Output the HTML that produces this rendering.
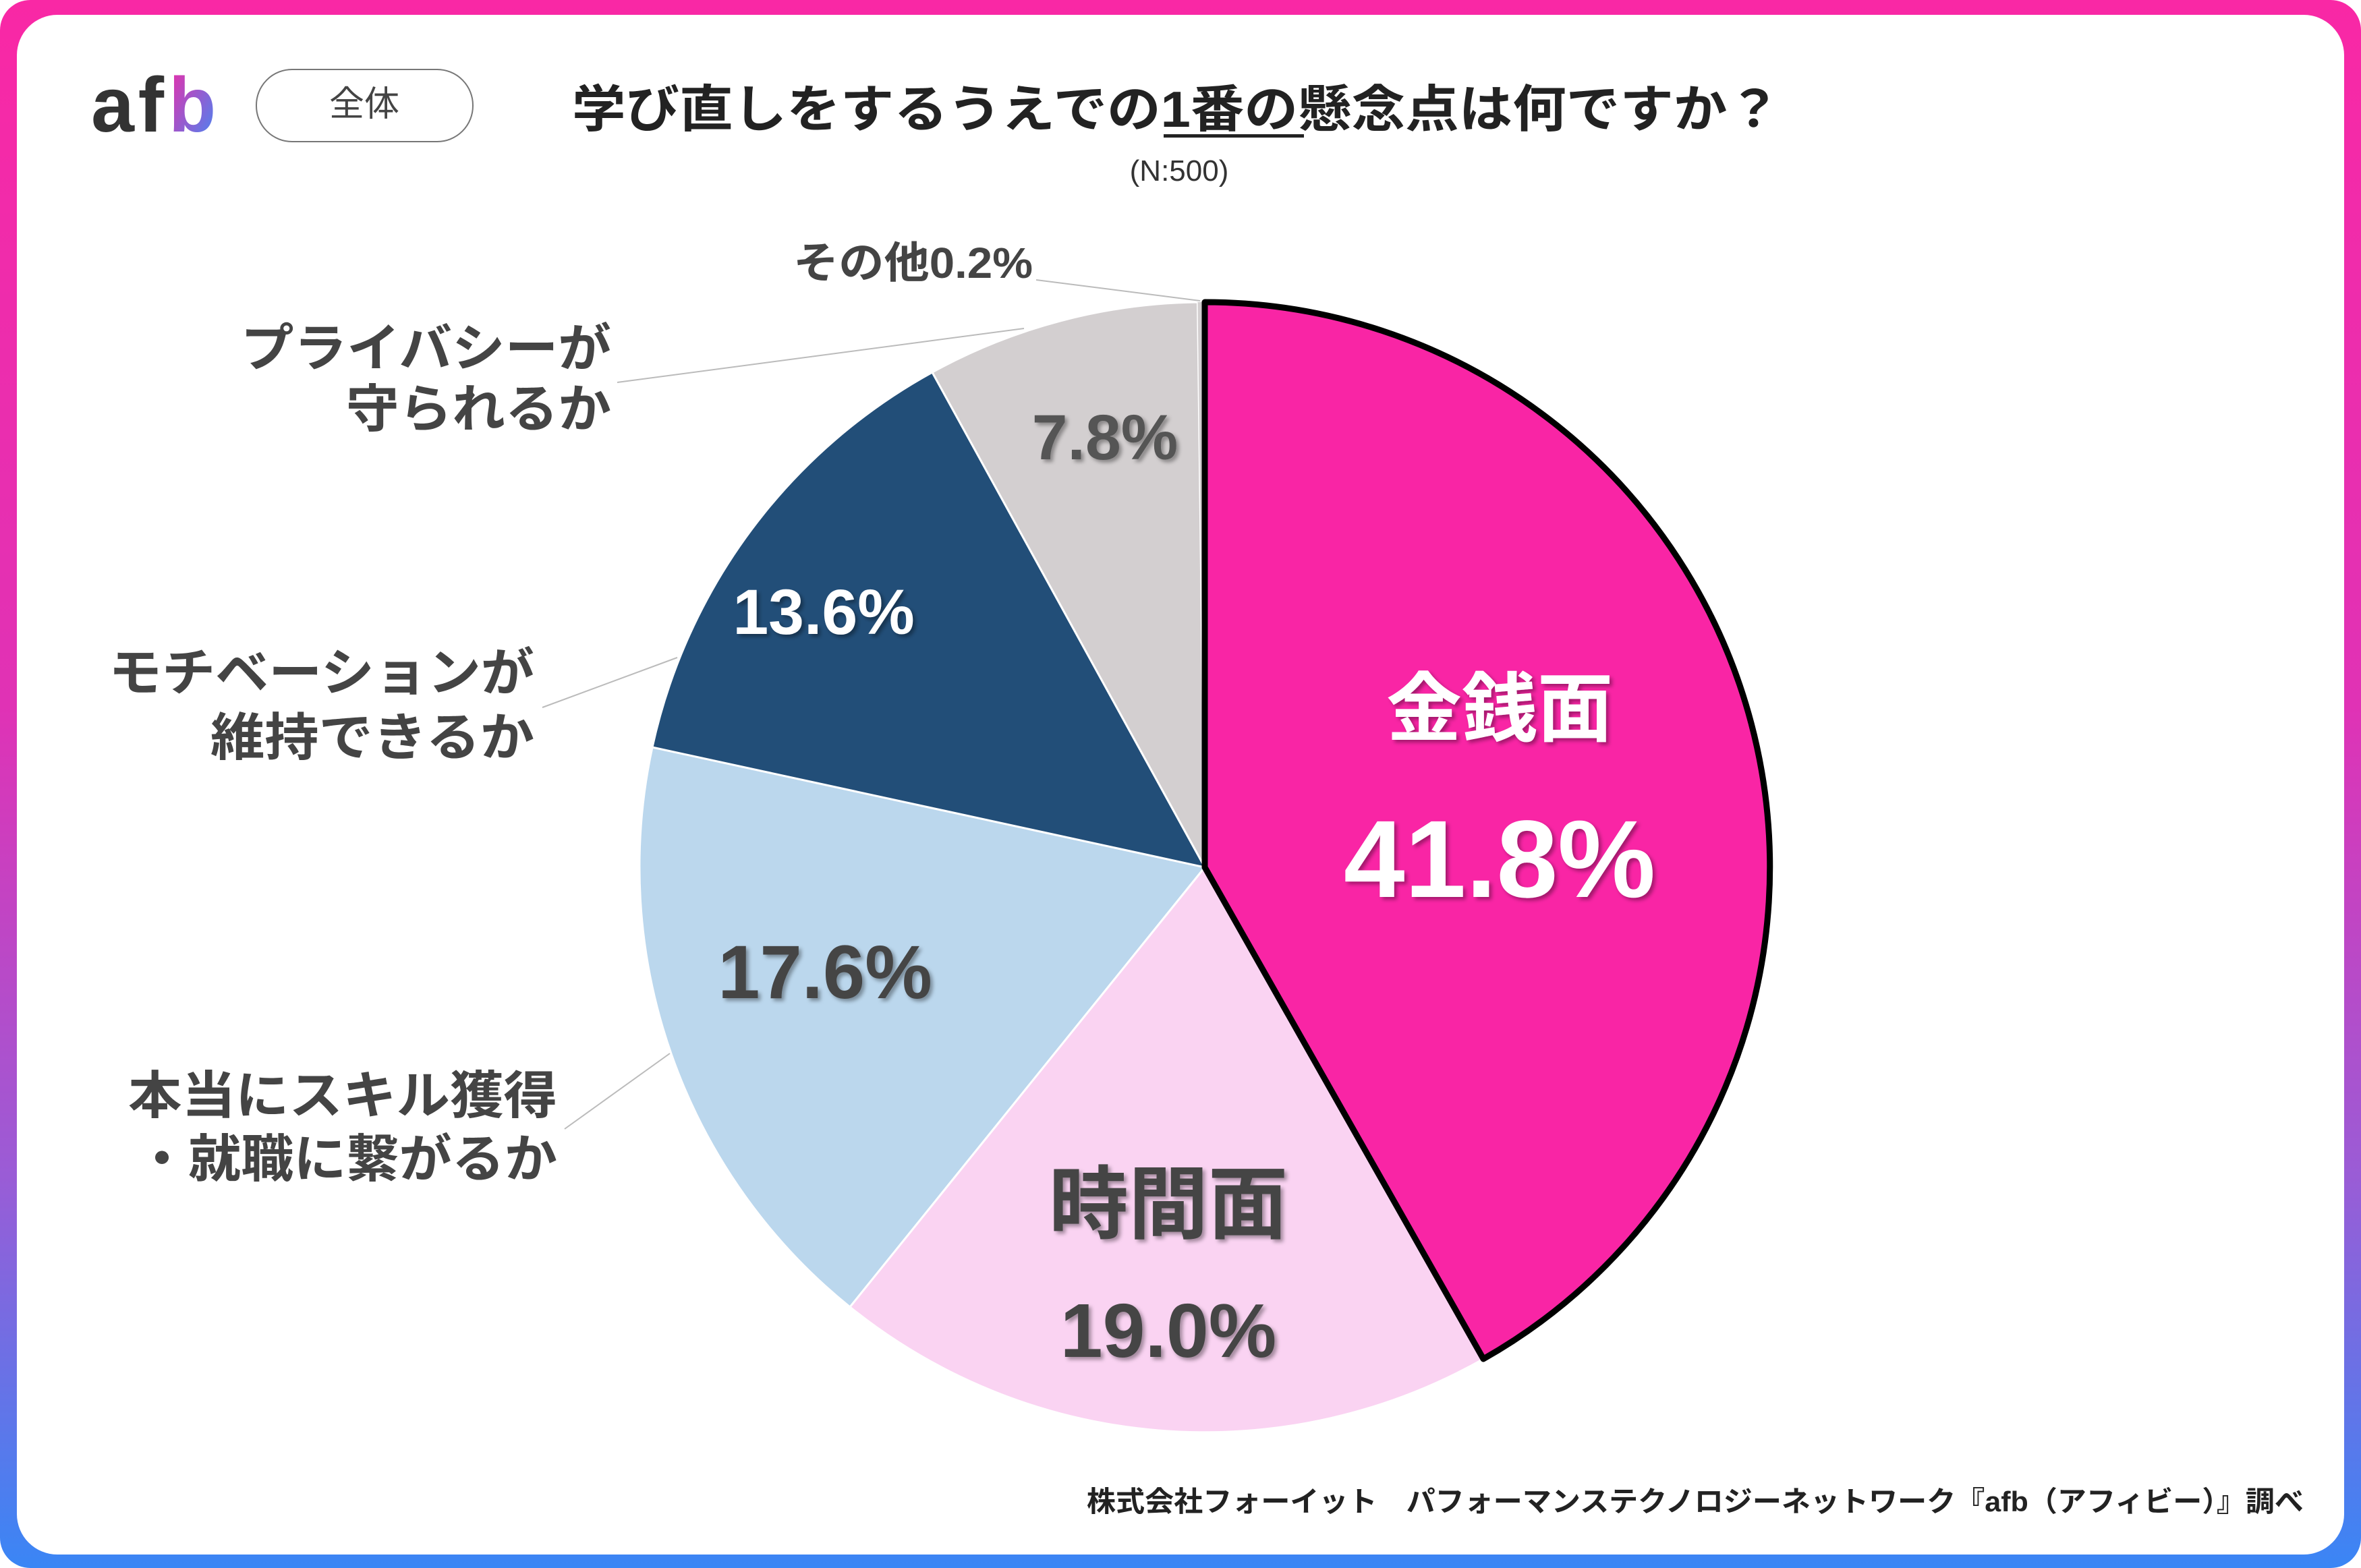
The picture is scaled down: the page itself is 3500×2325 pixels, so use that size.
<!DOCTYPE html>
<html><head><meta charset="utf-8"><style>
html,body{margin:0;padding:0;width:3500px;height:2325px;overflow:hidden;background:#fff}
svg{display:block}
text{font-family:"Liberation Sans","Noto Sans CJK JP",sans-serif}
</style></head><body>
<svg width="3500" height="2325" viewBox="0 0 3500 2325" xmlns="http://www.w3.org/2000/svg">
<defs>
<linearGradient id="fr" x1="0" y1="0" x2="0" y2="1">
<stop offset="0" stop-color="#F928A5"/><stop offset="0.45" stop-color="#E032B5"/><stop offset="0.75" stop-color="#9A5CD6"/><stop offset="1" stop-color="#3A86F5"/>
</linearGradient>
<linearGradient id="lb" x1="0" y1="0" x2="1" y2="1">
<stop offset="0" stop-color="#F12AA6"/><stop offset="1" stop-color="#3D8BF7"/>
</linearGradient>
<filter id="sh" x="-10%" y="-10%" width="130%" height="130%"><feDropShadow dx="4" dy="4" stdDeviation="3" flood-color="#000" flood-opacity="0.35"/></filter>
</defs>
<rect x="0" y="0" width="3500" height="2325" rx="45" fill="url(#fr)"/>
<rect x="25" y="22" width="3450" height="2283" rx="60" fill="#fff"/>

<!-- logo -->
<text x="135" y="195" font-size="115" font-weight="bold" fill="#333" font-family="DejaVu Sans,sans-serif" textLength="108" lengthAdjust="spacing">af</text>
<text x="250" y="195" font-size="115" font-weight="bold" fill="url(#lb)" font-family="DejaVu Sans,sans-serif">b</text>
<rect x="380" y="103" width="321" height="107" rx="53" fill="#fff" stroke="#777" stroke-width="2"/>
<text x="540" y="172" font-size="52" fill="#444" text-anchor="middle">全体</text>

<!-- title -->
<text x="848" y="188" font-size="75" font-weight="bold" fill="#222" textLength="1792" lengthAdjust="spacingAndGlyphs">学び直しをするうえでの1番の懸念点は何ですか？</text>
<rect x="1725" y="199" width="208" height="5" fill="#222"/>
<text x="1748" y="268" font-size="44" fill="#333" text-anchor="middle">(N:500)</text>

<!-- pie -->
<path d="M1786 1286 L1260 1938 A838 838 0 0 1 967 1108 Z" fill="#BBD7ED" stroke="#fff" stroke-width="3"/>
<path d="M1786 1286 L967 1108 A838 838 0 0 1 1382 552 Z" fill="#224E78" stroke="#fff" stroke-width="3"/>
<path d="M1786 1286 L1382 552 A838 838 0 0 1 1775.5 448 Z" fill="#D3CFD0" stroke="#fff" stroke-width="3"/>
<path d="M1786 1286 L1775.5 448 A838 838 0 0 1 1786 448 Z" fill="#D3CFD0"/>
<path d="M1786 1286 L2199 2015 A838 838 0 0 1 1260 1938 Z" fill="#FAD3F2" stroke="#fff" stroke-width="3"/>
<path d="M1786 1286 L1786 448 A838 838 0 0 1 2199 2015 Z" fill="#F925A5" stroke="#000" stroke-width="9" stroke-linejoin="round"/>

<!-- leader lines -->
<g stroke="#bbb" stroke-width="2" fill="none">
<line x1="1536" y1="415" x2="1779" y2="446"/>
<line x1="915" y1="567" x2="1518" y2="487"/>
<line x1="804" y1="1049" x2="1004" y2="975"/>
<line x1="837" y1="1674" x2="993" y2="1562"/>
</g>

<!-- outside labels -->
<g font-weight="bold" fill="#444" lengthAdjust="spacingAndGlyphs">
<text x="1176" y="412" font-size="64" textLength="355" lengthAdjust="spacingAndGlyphs">その他0.2%</text>
<text x="357" y="543" font-size="76" textLength="549" lengthAdjust="spacingAndGlyphs">プライバシーが</text>
<text x="513" y="633" font-size="76" textLength="393" lengthAdjust="spacingAndGlyphs">守られるか</text>
<text x="161" y="1024" font-size="76" textLength="631" lengthAdjust="spacingAndGlyphs">モチベーションが</text>
<text x="312" y="1120" font-size="76" textLength="480" lengthAdjust="spacingAndGlyphs">維持できるか</text>
<text x="190" y="1651" font-size="76" textLength="636" lengthAdjust="spacingAndGlyphs">本当にスキル獲得</text>
<text x="201" y="1745" font-size="76" textLength="625" lengthAdjust="spacingAndGlyphs">・就職に繋がるか</text>
</g>

<!-- inside labels -->
<g font-weight="bold" text-anchor="middle" filter="url(#sh)">
<text x="2223" y="1090" font-size="112" fill="#fff">金銭面</text>
<text x="2223" y="1330" font-size="163" fill="#fff">41.8%</text>
<text x="1732" y="1827" font-size="118" fill="#444">時間面</text>
<text x="1732" y="2012" font-size="113" fill="#444">19.0%</text>
<text x="1223" y="1480" font-size="112" fill="#444">17.6%</text>
<text x="1221" y="940" font-size="95" fill="#fff">13.6%</text>
<text x="1638" y="681" font-size="95" fill="#555">7.8%</text>
</g>

<!-- footer -->
<text x="1611" y="2241" font-size="42" font-weight="bold" fill="#222" textLength="1804" lengthAdjust="spacingAndGlyphs">株式会社フォーイット　パフォーマンステクノロジーネットワーク『afb（アフィビー）』調べ</text>
</svg>
</body></html>
